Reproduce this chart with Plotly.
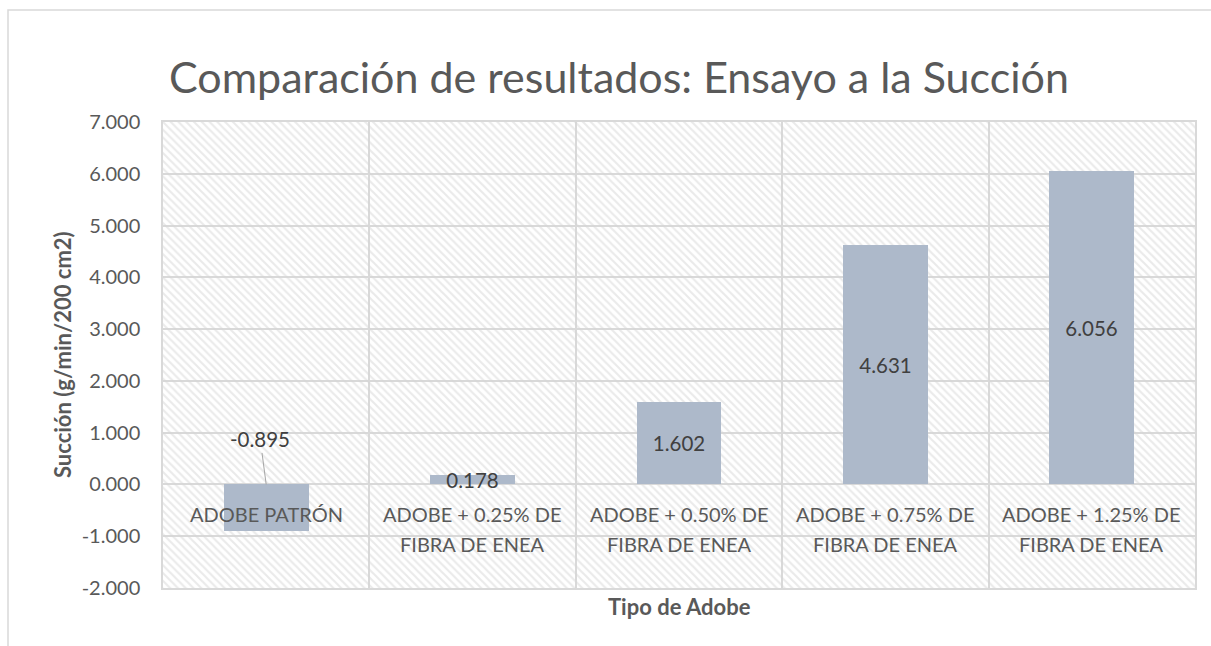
"""Bar chart: suction test comparison (Excel-style hatched plot area)."""

import plotly.graph_objects as go

CATEGORIES = [
    "ADOBE PATRÓN",
    "ADOBE + 0.25% DE<br>FIBRA DE ENEA",
    "ADOBE + 0.50% DE<br>FIBRA DE ENEA",
    "ADOBE + 0.75% DE<br>FIBRA DE ENEA",
    "ADOBE + 1.25% DE<br>FIBRA DE ENEA",
]
SUCCION = [-0.895, 0.178, 1.602, 4.631, 6.056]

Y_MIN, Y_MAX, Y_STEP = -2, 7, 1

_FONT = "Lato, 'Open Sans', sans-serif"
_GRAY = "#595959"
_GRID = "#d9d9d9"
_BAR = "#adb9ca"

W, H = 1211, 646
M_L, M_R, M_T, M_B = 163, 16, 122, 58
plot_w = W - M_L - M_R
plot_h = H - M_T - M_B

positions = list(range(len(CATEGORIES)))
x_lo, x_hi = -0.5, len(CATEGORIES) - 0.5

labels = [f"{v:.3f}" for v in SUCCION]
labels[0] = ""  # first label is moved above with a leader line

y_ticks = list(range(Y_MIN, Y_MAX + 1, Y_STEP))
y_ticktext = [f"{v:.3f}" for v in y_ticks]  # plain hyphen for negatives

fig = go.Figure()

# hatched plot-area background
fig.add_trace(
    go.Bar(
        x=[(x_lo + x_hi) / 2],
        y=[Y_MAX - Y_MIN],
        base=[Y_MIN],
        width=[x_hi - x_lo],
        marker={
            "color": "rgba(0,0,0,0)",
            "line": {"width": 0},
            "pattern": {
                "shape": "\\",
                "fgcolor": "#d6d6d6",
                "bgcolor": "rgba(0,0,0,0)",
                "size": 5.5,
                "solidity": 0.4,
            },
        },
        hoverinfo="skip",
        showlegend=False,
    )
)

fig.add_trace(
    go.Bar(
        x=positions,
        y=SUCCION,
        width=0.41,
        marker={"color": _BAR, "line": {"width": 0}},
        text=labels,
        textposition="inside",
        insidetextanchor="middle",
        constraintext="none",
        textangle=0,
        textfont={"family": _FONT, "size": 20.5, "color": "#404040"},
        customdata=[c.replace("<br>", " ") for c in CATEGORIES],
        hovertemplate="%{customdata}: %{y:.3f}<extra></extra>",
        showlegend=False,
    )
)

annotations = []
# category labels sit just below the zero line, two lines each
for pos, cat in zip(positions, CATEGORIES):
    for k, line in enumerate(cat.split("<br>")):
        annotations.append(
            {
                "x": pos,
                "y": 0,
                "xref": "x",
                "yref": "y",
                "text": line,
                "showarrow": False,
                "yanchor": "middle",
                "yshift": -30 - 30 * k,
                "font": {"family": _FONT, "size": 20, "color": _GRAY},
            }
        )

# moved data label for the negative bar
annotations.append(
    {
        "x": positions[0],
        "y": 0,
        "xref": "x",
        "yref": "y",
        "text": f"{SUCCION[0]:.3f}",
        "showarrow": True,
        "arrowhead": 0,
        "arrowwidth": 1,
        "arrowcolor": "#a6a6a6",
        "ax": -6,
        "ay": -45,
        "font": {"family": _FONT, "size": 20.5, "color": "#404040"},
    }
)

# y axis title
annotations.append(
    {
        "x": (62 - M_L) / plot_w,
        "y": 0.5,
        "xref": "paper",
        "yref": "paper",
        "xanchor": "center",
        "yanchor": "middle",
        "text": "<b>Succión (g/min/200 cm2)</b>",
        "textangle": -90,
        "showarrow": False,
        "font": {"family": _FONT, "size": 22, "color": _GRAY},
    }
)

# x axis title
annotations.append(
    {
        "x": 0.5,
        "y": -(606 - (H - M_B)) / plot_h,
        "xref": "paper",
        "yref": "paper",
        "text": "<b>Tipo de Adobe</b>",
        "showarrow": False,
        "yanchor": "middle",
        "font": {"family": _FONT, "size": 22, "color": _GRAY},
    }
)

fig.update_layout(
    width=W,
    height=H,
    margin={"l": M_L, "r": M_R, "t": M_T, "b": M_B},
    paper_bgcolor="white",
    plot_bgcolor="white",
    barmode="overlay",
    bargap=0,
    title={
        "text": "Comparación de resultados: Ensayo a la Succión",
        "x": 619 / W,
        "xanchor": "center",
        "xref": "container",
        "y": 1 - 78 / H,
        "yanchor": "middle",
        "yref": "container",
        "font": {"family": _FONT, "size": 43, "color": _GRAY},
    },
    xaxis={
        "range": [x_lo, x_hi],
        "tick0": x_lo,
        "dtick": 1,
        "showgrid": True,
        "gridcolor": _GRID,
        "gridwidth": 1.5,
        "showticklabels": False,
        "zeroline": False,
        "showline": True,
        "mirror": True,
        "linecolor": _GRID,
        "linewidth": 1.5,
        "fixedrange": True,
    },
    yaxis={
        "range": [Y_MIN, Y_MAX],
        "tickmode": "array",
        "tickvals": y_ticks,
        "ticktext": y_ticktext,
        "showgrid": True,
        "gridcolor": _GRID,
        "gridwidth": 1.5,
        "zeroline": True,
        "zerolinecolor": _GRID,
        "zerolinewidth": 1.5,
        "showline": True,
        "mirror": True,
        "linecolor": _GRID,
        "linewidth": 1.5,
        "ticklabelstandoff": 17,
        "tickfont": {"family": _FONT, "size": 20, "color": _GRAY},
        "fixedrange": True,
    },
    annotations=annotations,
    shapes=[
        {
            "type": "rect",
            "xref": "paper",
            "yref": "paper",
            "x0": (8 - M_L) / plot_w,
            "x1": 1.2,
            "y0": -0.5,
            "y1": (H - M_B - 10) / plot_h,
            "line": {"color": _GRID, "width": 1.5},
            "layer": "below",
        }
    ],
)

# drop the default 8px body margin so the figure sits at the window origin
fig.write_html(
    "out.html",
    config={"displayModeBar": False},
    post_script="document.body.style.margin='0';",
)
